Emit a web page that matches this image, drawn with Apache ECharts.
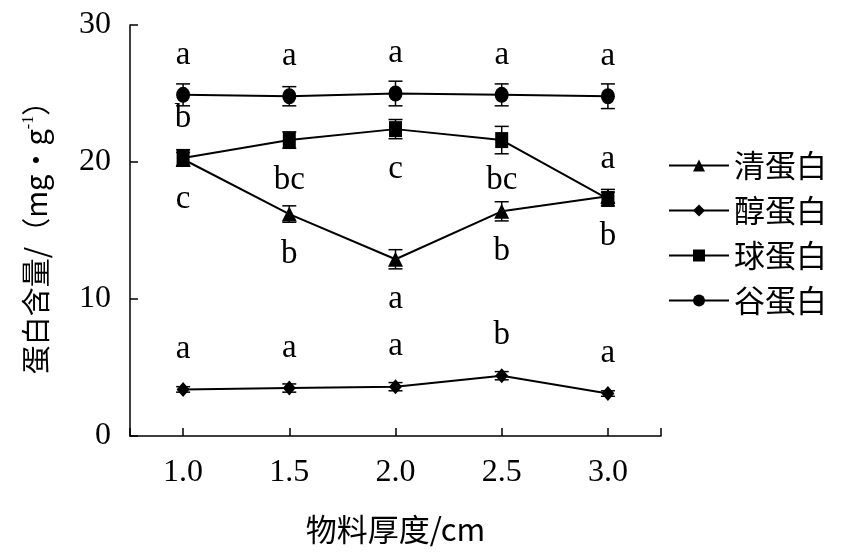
<!DOCTYPE html>
<html><head><meta charset="utf-8">
<script src="https://cdn.jsdelivr.net/npm/echarts@6/dist/echarts.min.js"></script>
<style>html,body{margin:0;padding:0;background:#fff}#c{width:846px;height:556px}</style>
</head><body><div id="c"></div>
<script>
var thickness = [1.0, 1.5, 2.0, 2.5, 3.0];
var xTickLabels = ['1.0', '1.5', '2.0', '2.5', '3.0'];
var seriesNames = ['清蛋白', '醇蛋白', '球蛋白', '谷蛋白'];
var albumin = [20.2, 16.2, 12.9, 16.4, 17.5];
var albuminErr = [0.5, 0.6, 0.7, 0.7, 0.5];
var albuminLetters = ['c', 'b', 'a', 'b', 'b'];
var albuminSide = ['below', 'below', 'below', 'below', 'below'];
var prolamin = [3.4, 3.5, 3.6, 4.4, 3.1];
var prolaminErr = [0.2, 0.3, 0.3, 0.3, 0.2];
var prolaminLetters = ['a', 'a', 'a', 'b', 'a'];
var prolaminSide = ['above', 'above', 'above', 'above', 'above'];
var globulin = [20.3, 21.6, 22.4, 21.6, 17.3];
var globulinErr = [0.6, 0.6, 0.7, 1.0, 0.5];
var globulinLetters = ['b', 'bc', 'c', 'bc', 'a'];
var globulinSide = ['above', 'below', 'below', 'below', 'above'];
var glutelin = [24.9, 24.8, 25.0, 24.9, 24.8];
var glutelinErr = [0.8, 0.7, 0.9, 0.8, 0.9];
var glutelinLetters = ['a', 'a', 'a', 'a', 'a'];
var glutelinSide = ['above', 'above', 'above', 'above', 'above'];
var yTicks = [0, 10, 20, 30];

var FONT = '"Liberation Serif", "Noto Sans CJK SC", serif';
var CJK = '"Noto Sans CJK SC", "Liberation Serif", sans-serif';

var groups = [
  {name: seriesNames[0], vals: albumin, err: albuminErr, letters: albuminLetters, side: albuminSide, symbol: 'triangle', size: 15},
  {name: seriesNames[1], vals: prolamin, err: prolaminErr, letters: prolaminLetters, side: prolaminSide, symbol: 'diamond', size: [13, 15]},
  {name: seriesNames[2], vals: globulin, err: globulinErr, letters: globulinLetters, side: globulinSide, symbol: 'rect', size: [13, 16]},
  {name: seriesNames[3], vals: glutelin, err: glutelinErr, letters: glutelinLetters, side: glutelinSide, symbol: 'circle', size: [14, 16]}
];

var series = [];
groups.forEach(function (g) {
  series.push({
    name: g.name, type: 'line', symbol: g.symbol, symbolSize: g.size,
    itemStyle: {color: '#000'}, lineStyle: {color: '#000', width: 2},
    data: thickness.map(function (x, i) { return [x, g.vals[i]]; }),
    z: 3
  });
  series.push({
    type: 'custom', name: g.name + '_err', silent: true, z: 4,
    data: thickness.map(function (x, i) { return [x, g.vals[i], g.err[i], i]; }),
    renderItem: function (params, api) {
      var x = api.value(0), y = api.value(1), e = api.value(2), i = api.value(3);
      var pc = api.coord([x, y]);
      var top = api.coord([x, y + e]);
      var bot = api.coord([x, y - e]);
      var hw = 7;
      var above = g.side[i] === 'above';
      var ty = above ? pc[1] - 40 : pc[1] + 40;
      return {
        type: 'group',
        children: [
          {type: 'line', shape: {x1: top[0], y1: top[1], x2: bot[0], y2: bot[1]}, style: {stroke: '#000', lineWidth: 1.5}},
          {type: 'line', shape: {x1: top[0] - hw, y1: top[1], x2: top[0] + hw, y2: top[1]}, style: {stroke: '#000', lineWidth: 1.5}},
          {type: 'line', shape: {x1: bot[0] - hw, y1: bot[1], x2: bot[0] + hw, y2: bot[1]}, style: {stroke: '#000', lineWidth: 1.5}},
          {type: 'text', x: pc[0], y: ty, style: {text: g.letters[i], textAlign: 'center', textVerticalAlign: 'middle', fill: '#000', font: '33px ' + FONT}}
        ]
      };
    }
  });
});

var chart = echarts.init(document.getElementById('c'));
chart.setOption({
  animation: false,
  backgroundColor: '#fff',
  grid: {left: 130, right: 185, top: 25, bottom: 120, containLabel: false},
  legend: {
    data: seriesNames, orient: 'vertical', left: 663, top: 145,
    itemWidth: 60, itemHeight: 15, itemGap: 14,
    textStyle: {fontSize: 31, fontFamily: CJK, color: '#000', lineHeight: 28}
  },
  xAxis: {
    type: 'value', min: 0.75, max: 3.25,
    name: '物料厚度/cm', nameLocation: 'middle', nameGap: 78,
    nameTextStyle: {fontSize: 31, fontFamily: CJK, color: '#000'},
    axisLine: {show: true, lineStyle: {color: '#000', width: 1.5}},
    axisTick: {show: true, inside: true, length: 8, lineStyle: {color: '#000', width: 1.5},
      customValues: [0.75].concat(thickness).concat([3.25])},
    axisLabel: {customValues: thickness, margin: 21, fontSize: 32, fontFamily: FONT, color: '#000',
      formatter: function (v) { return xTickLabels[thickness.indexOf(v)] || ''; }},
    splitLine: {show: false}
  },
  yAxis: {
    type: 'value', min: 0, max: 30, interval: 10,
    name: '蛋白含量/（mg•g{sup|-1}）', nameLocation: 'middle', nameGap: 79,
    nameTextStyle: {fontSize: 29, fontFamily: CJK, color: '#000',
      rich: {sup: {fontSize: 16, verticalAlign: 'top', fontFamily: FONT, color: '#000', padding: [0, 0, 14, 0]}}},
    axisLine: {show: true, lineStyle: {color: '#000', width: 1.5}},
    axisTick: {show: true, inside: true, length: 8, lineStyle: {color: '#000', width: 1.5}},
    axisLabel: {margin: 19, fontSize: 32, fontFamily: FONT, color: '#000'},
    splitLine: {show: false}
  },
  series: series
});
</script></body></html>
